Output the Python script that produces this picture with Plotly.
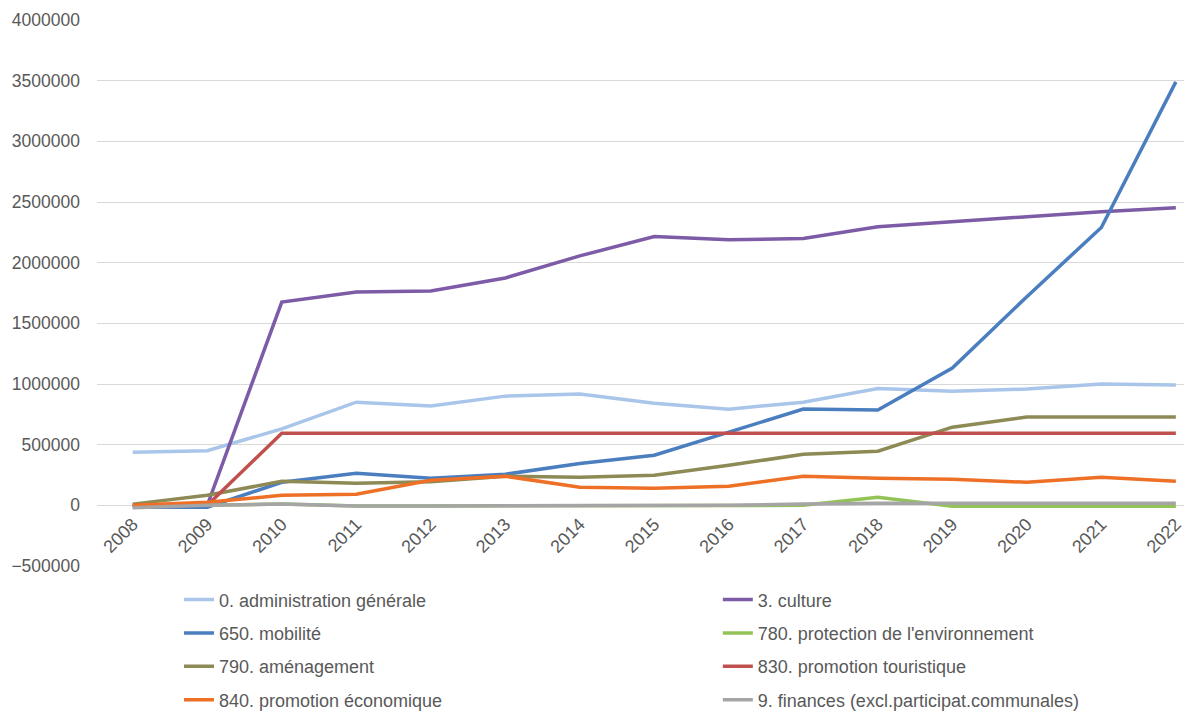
import plotly.graph_objects as go

years = [str(y) for y in range(2008, 2023)]

admin_generale = [438000, 450000, 630000, 850000, 818000, 900000, 917000, 842000, 793000, 850000, 962000, 941000, 958000, 1000000, 991000]
culture = [0, 0, 1675000, 1759000, 1767000, 1874000, 2056000, 2215000, 2188000, 2200000, 2296000, 2337000, 2380000, 2420000, 2453000]
mobilite = [-15000, -15000, 190000, 264000, 223000, 256000, 345000, 413000, 603000, 793000, 785000, 1131000, 1720000, 2290000, 3490000]
protection_env = [0, 0, 10000, -5000, -5000, -5000, -5000, -5000, -5000, 0, 66000, -8000, -8000, -8000, -8000]
amenagement = [10000, 83000, 198000, 182000, 195000, 240000, 231000, 248000, 330000, 421000, 446000, 644000, 727000, 727000, 727000]
promo_touristique = [0, 0, 594000, 594000, 594000, 594000, 594000, 594000, 594000, 594000, 594000, 594000, 594000, 594000, 594000]
promo_economique = [0, 25000, 83000, 91000, 206000, 240000, 150000, 140000, 157000, 240000, 223000, 215000, 190000, 231000, 198000]
finances = [-20000, 0, 10000, -5000, -5000, -3000, -3000, -2000, 0, 10000, 18000, 18000, 18000, 18000, 18000]

series = [
    ("0. administration générale", admin_generale, "#a9c5e9", "legend"),
    ("3. culture", culture, "#7d5ba6", "legend2"),
    ("650. mobilité", mobilite, "#4a7ebf", "legend"),
    ("780. protection de l'environnement", protection_env, "#93c356", "legend2"),
    ("790. aménagement", amenagement, "#8d8a56", "legend"),
    ("830. promotion touristique", promo_touristique, "#c0504d", "legend2"),
    ("840. promotion économique", promo_economique, "#ee7026", "legend"),
    ("9. finances (excl.participat.communales)", finances, "#a5a5a5", "legend2"),
]

fig = go.Figure()
for i, (name, vals, col, lg) in enumerate(series):
    fig.add_trace(go.Scatter(
        x=years, y=vals, name=name, mode="lines",
        line=dict(color=col, width=3.5),
        legend=lg, legendgroup=f"g{i}",
    ))

font_family = "Liberation Sans, Arial, sans-serif"
tick_color = "#595959"

legend_common = dict(
    orientation="v", yanchor="top", xanchor="left",
    font=dict(family=font_family, size=18, color=tick_color),
    tracegroupgap=7, itemwidth=30, bgcolor="rgba(0,0,0,0)",
)

fig.update_layout(
    width=1192, height=713,
    paper_bgcolor="white", plot_bgcolor="white",
    margin=dict(l=89, r=10, t=12, b=155, autoexpand=False),
    font=dict(family=font_family, color=tick_color),
    showlegend=True,
    legend=dict(x=0.075, y=-0.028, **legend_common),
    legend2=dict(x=0.568, y=-0.028, **legend_common),
    xaxis=dict(
        type="category", range=[-0.48, 14.19],
        showgrid=False, zeroline=False, showline=False,
        anchor="free", position=500000 / 4500000,
        tickangle=-45, tickfont=dict(family=font_family, size=18, color=tick_color),
        ticks="", ticklabelstandoff=4, automargin=False,
    ),
    yaxis=dict(
        range=[-500000, 4000000], dtick=500000, tick0=0,
        showgrid=True, gridcolor="#d9d9d9", gridwidth=1,
        zeroline=True, zerolinecolor="#d9d9d9", zerolinewidth=1,
        tickformat="d", ticklabelstandoff=16, automargin=False,
        tickfont=dict(family=font_family, size=17.5, color=tick_color),
        showline=False,
    ),
)

fig.write_html("out.html")
